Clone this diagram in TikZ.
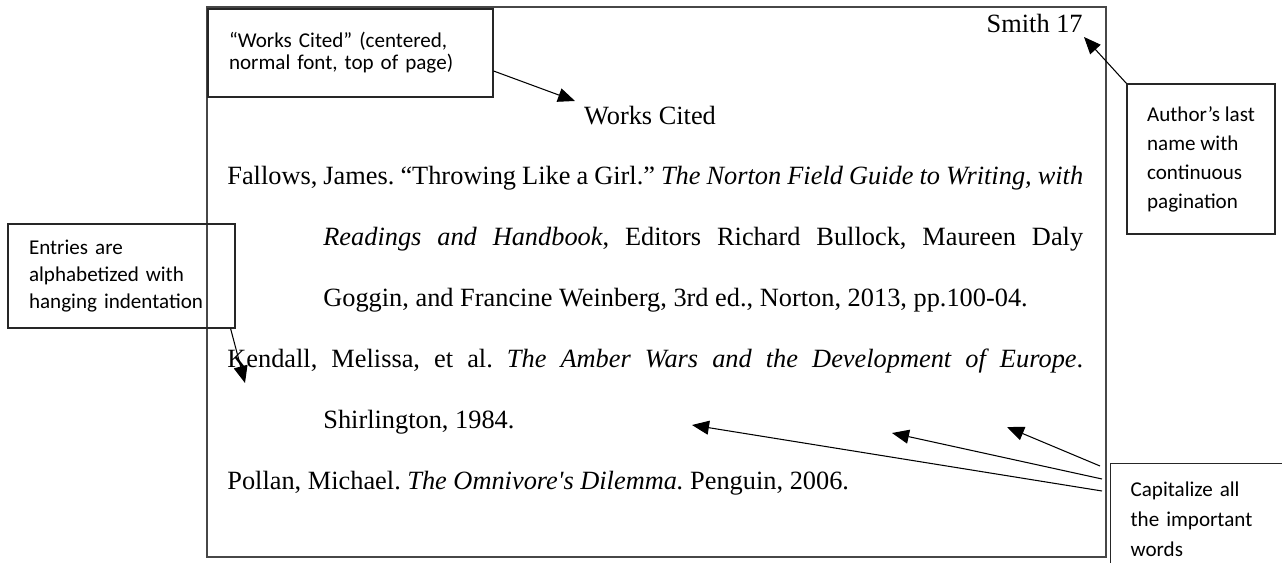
\documentclass[tikz,border=0pt]{standalone}
\usepackage{fontspec}
\setmainfont{Liberation Serif}
\newfontfamily\calibri{Carlito}
\usetikzlibrary{calc,arrows.meta}
\frenchspacing

\begin{document}
\begin{tikzpicture}[x=0.02cm, y=-0.02cm,
	entry/.style={anchor=base west, inner sep=0pt, font=\fontsize{15}{18}\selectfont},
	note/.style={draw=black!85, line width=0.7pt, align=left, inner sep=0pt},
	pointer/.style={line width=0.6pt, -{Triangle[length=0.34cm, width=0.28cm]}}]
			%%%%% START %%%%%
			
			\useasboundingbox[fill=white] (0, 0) rectangle (1282, 563);
			
			\draw[line width=1.1pt, color=black!72] (207, 7) rectangle (1106, 557);
			
			\node[entry, anchor=base east] (header) at (1083, 33) {Smith 17};
			\node[entry, anchor=base] (title) at (650, 125) {Works Cited};
			
			\node[entry] (fallowsA) at (227, 185) {\makebox[17.12cm][s]{Fallows, James. “Throwing Like a Girl.” \textit{The Norton Field Guide to Writing, with}}};
			\node[entry] (fallowsB) at (323, 246) {\makebox[15.2cm][s]{\textit{Readings and Handbook}, Editors Richard Bullock, Maureen Daly}};
			\node[entry] (fallowsC) at (323, 307) {Goggin, and Francine Weinberg, 3rd ed., Norton, 2013, pp.100-04.};
			
			\node[entry] (kendallA) at (227, 368) {\makebox[17.12cm][s]{Kendall, Melissa, et al. \textit{The Amber Wars and the Development of Europe}.}};
			\node[entry] (kendallB) at (323, 429) {Shirlington, 1984.};
			
			\node[entry] (pollan) at (227, 490) {Pollan, Michael. \textit{The Omnivore\textquotesingle s Dilemma.} Penguin, 2006.};
			
			\node[note, text width=4.86cm, minimum width=5.7cm, minimum height=1.76cm, font=\calibri\fontsize{12}{12.5}\selectfont] (worksnote) at (350.5, 53) {“Works Cited” (centered,\\normal font, top of page)};
			\node[note, minimum width=2.96cm, minimum height=3cm, font=\calibri\fontsize{12}{16.5}\selectfont] (authornote) at (1201, 159) {Author’s last\\name with\\continuous\\pagination};
			\node[note, text width=3.7cm, minimum width=4.54cm, minimum height=2.08cm, font=\calibri\fontsize{12}{15.6}\selectfont] (entrynote) at (121.5, 276) {Entries are\\alphabetized with\\hanging indentation};
			
			\begin{scope}
				\clip (0, 0) rectangle (1282, 563);
				\node[note, anchor=north west, text width=3.6cm, inner xsep=0.4cm, inner ysep=0.36cm, font=\calibri\fontsize{12}{17.1}\selectfont] (capnote) at (1110, 463) {Capitalize all\\the important\\words};
			\end{scope}
			
			\coordinate (titletip) at (575, 101);
			\coordinate (headtip) at (1084, 37);
			\coordinate (indenttip) at (245, 383);
			\coordinate (captipA) at (1007, 427);
			\coordinate (captipB) at (892, 433);
			\coordinate (captipC) at (692, 425);
			
			\draw[pointer] ($(worksnote.east)+(0, 18)$) -- (titletip);
			\draw[pointer] (authornote.north west) -- (headtip);
			\draw[pointer] ($(entrynote.south east)+(-5, 0)$) -- (indenttip);
			
			\draw[pointer] ($(capnote.north west)+(-10, 3)$) -- (captipA);
			\draw[pointer] ($(capnote.north west)+(-8, 16)$) -- (captipB);
			\draw[pointer] ($(capnote.north west)+(-8, 28)$) -- (captipC);
			
			%%%%% END %%%%%
		\end{tikzpicture}
\end{document}
